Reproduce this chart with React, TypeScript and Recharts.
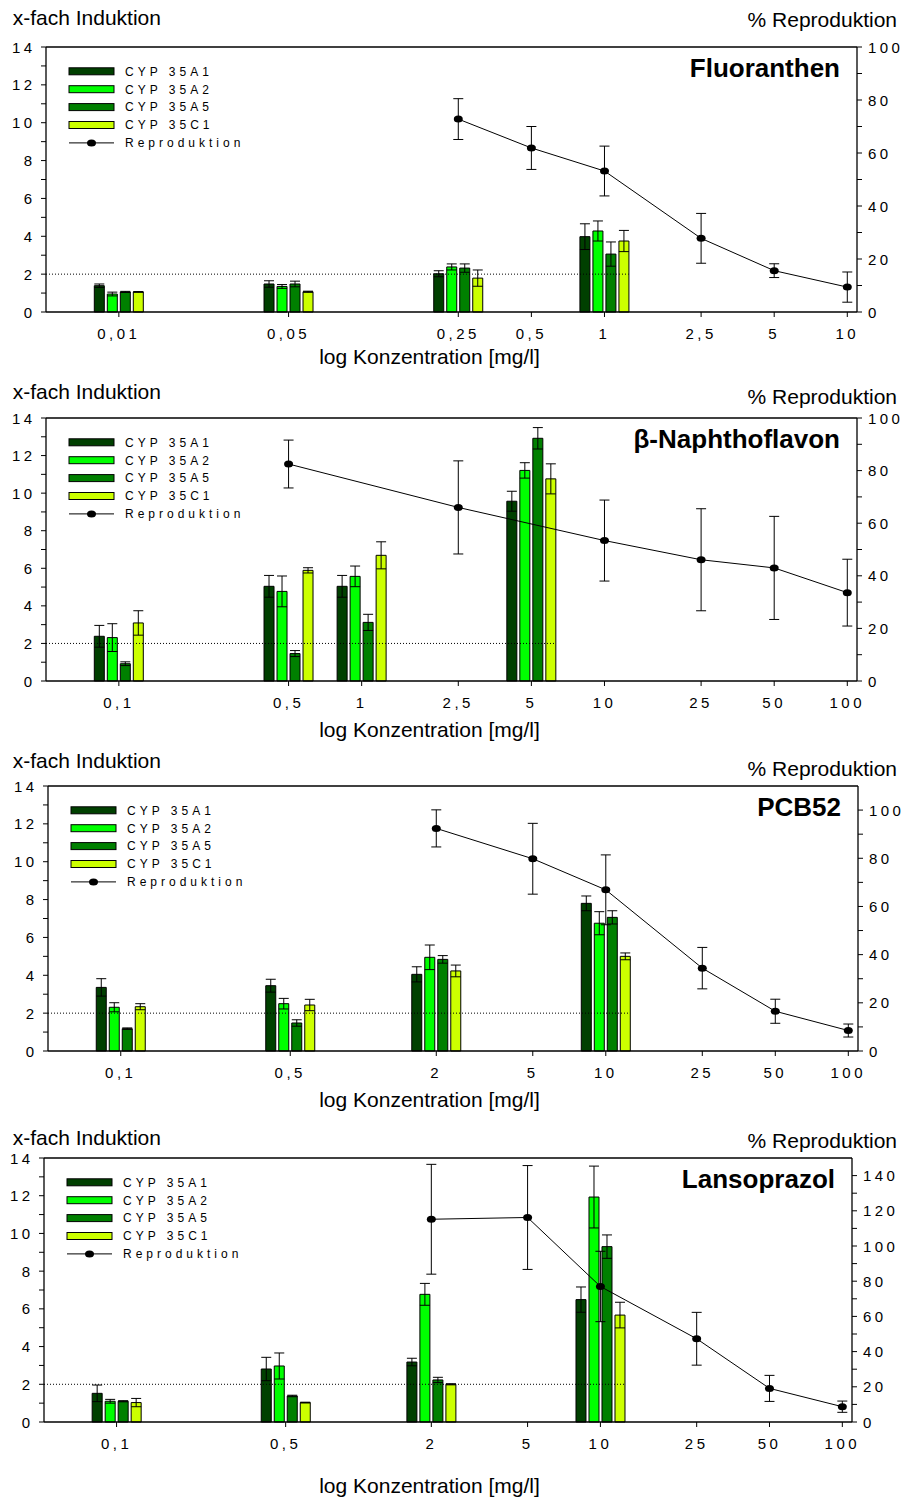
import React from "react";
import {
  ComposedChart,
  Bar,
  Line,
  XAxis,
  YAxis,
  ErrorBar,
  ReferenceLine,
} from "recharts";

const FONT = '"Liberation Sans", Arial, Helvetica, sans-serif';
const PAGE_W = 904;
const PAGE_H = 1499;

const CYP_NAMES = ["CYP 35A1", "CYP 35A2", "CYP 35A5", "CYP 35C1"];
const CYP_COLORS = ["#004000", "#00ff00", "#008000", "#ccff00"];
const INDUCTION_TICKS = [0, 1, 2, 3, 4, 5, 6, 7, 8, 9, 10, 11, 12, 13, 14];

// Fluoranthen
const fluoTicks = [0.01, 0.05, 0.25, 0.5, 1, 2.5, 5, 10];
const fluoConc = [0.01, 0.05, 0.25, 1];
const fluoA1 = [1.39, 1.48, 2.02, 3.98];
const fluoA1Err = [0.09, 0.17, 0.16, 0.68];
const fluoA2 = [0.95, 1.35, 2.38, 4.28];
const fluoA2Err = [0.1, 0.1, 0.16, 0.53];
const fluoA5 = [1.06, 1.48, 2.32, 3.06];
const fluoA5Err = [0.03, 0.15, 0.22, 0.64];
const fluoC1 = [1.06, 1.07, 1.79, 3.75];
const fluoC1Err = [0.02, 0.03, 0.43, 0.56];
const fluoRepConc = [0.25, 0.5, 1, 2.5, 5, 10];
const fluoRep = [72.8, 61.9, 53.2, 27.8, 15.6, 9.4];
const fluoRepErr = [7.7, 8.1, 9.4, 9.4, 2.6, 5.7];

// beta-Naphthoflavon
const bnfTicks = [0.1, 0.5, 1, 2.5, 5, 10, 25, 50, 100];
const bnfConc = [0.1, 0.5, 1, 5];
const bnfA1 = [2.38, 5.04, 5.04, 9.57];
const bnfA1Err = [0.58, 0.58, 0.58, 0.53];
const bnfA2 = [2.31, 4.77, 5.57, 11.21];
const bnfA2Err = [0.74, 0.82, 0.55, 0.41];
const bnfA5 = [0.92, 1.46, 3.12, 12.92];
const bnfA5Err = [0.1, 0.16, 0.43, 0.57];
const bnfC1 = [3.09, 5.89, 6.69, 10.76];
const bnfC1Err = [0.65, 0.14, 0.72, 0.8];
const bnfRepConc = [0.5, 2.5, 10, 25, 50, 100];
const bnfRep = [82.5, 66, 53.4, 46.1, 43.0, 33.6];
const bnfRepErr = [9.1, 17.7, 15.4, 19.4, 19.6, 12.7];

// PCB52
const pcbTicks = [0.1, 0.5, 2, 5, 10, 25, 50, 100];
const pcbConc = [0.1, 0.5, 2, 10];
const pcbA1 = [3.36, 3.45, 4.05, 7.8];
const pcbA1Err = [0.46, 0.34, 0.4, 0.39];
const pcbA2 = [2.31, 2.5, 4.95, 6.75];
const pcbA2Err = [0.24, 0.28, 0.65, 0.61];
const pcbA5 = [1.18, 1.48, 4.84, 7.06];
const pcbA5Err = [0.04, 0.17, 0.2, 0.35];
const pcbC1 = [2.34, 2.43, 4.23, 5.0];
const pcbC1Err = [0.16, 0.3, 0.31, 0.18];
const pcbRepConc = [2, 5, 10, 25, 50, 100];
const pcbRep = [92.4, 79.8, 66.9, 34.4, 16.5, 8.5];
const pcbRepErr = [7.7, 14.7, 14.5, 8.6, 5.0, 2.7];

// Lansoprazol
const lansoTicks = [0.1, 0.5, 2, 5, 10, 25, 50, 100];
const lansoConc = [0.1, 0.5, 2, 10];
const lansoA1 = [1.52, 2.81, 3.18, 6.49];
const lansoA1Err = [0.44, 0.62, 0.2, 0.67];
const lansoA2 = [1.1, 2.97, 6.77, 11.93];
const lansoA2Err = [0.1, 0.69, 0.58, 1.64];
const lansoA5 = [1.1, 1.38, 2.23, 9.3];
const lansoA5Err = [0.03, 0.04, 0.14, 0.62];
const lansoC1 = [1.03, 1.03, 2.0, 5.67];
const lansoC1Err = [0.22, 0.02, 0.03, 0.68];
const lansoRepConc = [2, 5, 10, 25, 50, 100];
const lansoRep = [115.2, 116.2, 77.0, 47.3, 19.1, 8.7];
const lansoRepErr = [31.2, 29.5, 20, 15, 7.4, 3.2];

const log = (c: number) => Math.log10(c);
const fmtConc = (v: number) =>
  String(Number(Math.pow(10, v).toPrecision(3))).replace(".", ",");
const steps = (max: number, step: number) => {
  const out: number[] = [];
  for (let v = 0; v <= max + 1e-9; v += step) out.push(v);
  return out;
};

type Panel = {
  name: string;
  ticks: number[];
  conc: number[];
  cyp: number[][];
  cypErr: number[][];
  repConc: number[];
  rep: number[];
  repErr: number[];
  repMax: number;
  repTickMax: number;
  // layout (page pixels)
  top: number;
  bottom: number;
  left: number;
  right: number;
  yTitle: number;
  repTitle: number;
  xTitle: number;
};

const PANELS: Panel[] = [
  {
    name: "Fluoranthen",
    ticks: fluoTicks,
    conc: fluoConc,
    cyp: [fluoA1, fluoA2, fluoA5, fluoC1],
    cypErr: [fluoA1Err, fluoA2Err, fluoA5Err, fluoC1Err],
    repConc: fluoRepConc,
    rep: fluoRep,
    repErr: fluoRepErr,
    repMax: 100,
    repTickMax: 100,
    top: 47,
    bottom: 312,
    left: 46,
    right: 857,
    yTitle: 25,
    repTitle: 27,
    xTitle: 364,
  },
  {
    name: "β-Naphthoflavon",
    ticks: bnfTicks,
    conc: bnfConc,
    cyp: [bnfA1, bnfA2, bnfA5, bnfC1],
    cypErr: [bnfA1Err, bnfA2Err, bnfA5Err, bnfC1Err],
    repConc: bnfRepConc,
    rep: bnfRep,
    repErr: bnfRepErr,
    repMax: 100,
    repTickMax: 100,
    top: 418,
    bottom: 681,
    left: 46,
    right: 857,
    yTitle: 399,
    repTitle: 404,
    xTitle: 737,
  },
  {
    name: "PCB52",
    ticks: pcbTicks,
    conc: pcbConc,
    cyp: [pcbA1, pcbA2, pcbA5, pcbC1],
    cypErr: [pcbA1Err, pcbA2Err, pcbA5Err, pcbC1Err],
    repConc: pcbRepConc,
    rep: pcbRep,
    repErr: pcbRepErr,
    repMax: 110,
    repTickMax: 100,
    top: 786,
    bottom: 1051,
    left: 48,
    right: 858,
    yTitle: 768,
    repTitle: 776,
    xTitle: 1107,
  },
  {
    name: "Lansoprazol",
    ticks: lansoTicks,
    conc: lansoConc,
    cyp: [lansoA1, lansoA2, lansoA5, lansoC1],
    cypErr: [lansoA1Err, lansoA2Err, lansoA5Err, lansoC1Err],
    repConc: lansoRepConc,
    rep: lansoRep,
    repErr: lansoRepErr,
    repMax: 150,
    repTickMax: 140,
    top: 1158,
    bottom: 1422,
    left: 44,
    right: 852,
    yTitle: 1145,
    repTitle: 1148,
    xTitle: 1493,
  },
];

const PAD_TOP = 20;
const XAXIS_H = 45;

const LeftTick = (props: any) => {
  const { x, y, payload } = props;
  if (payload.value % 2 !== 0) return <g />;
  return (
    <text x={x - 3.6} y={y} dy={5.5} textAnchor="end" fontSize={15}
      fontFamily={FONT} letterSpacing={3.4} fill="#000">
      {payload.value}
    </text>
  );
};

const RightTick = (props: any) => {
  const { x, y, payload } = props;
  if (payload.value % 20 !== 0) return <g />;
  return (
    <text x={x + 4} y={y} dy={5.5} textAnchor="start" fontSize={15}
      fontFamily={FONT} letterSpacing={3.4} fill="#000">
      {payload.value}
    </text>
  );
};

const ConcTick = (props: any) => {
  const { x, y, payload } = props;
  return (
    <text x={x} y={y} dy={20} textAnchor="middle" fontSize={15}
      fontFamily={FONT} letterSpacing={3.5} fill="#000">
      {fmtConc(payload.value)}
    </text>
  );
};

const RepDot = (props: any) => (
  <ellipse key={`dot-${props.index}`} cx={props.cx} cy={props.cy}
    rx={4.5} ry={3.5} fill="#000" />
);

function PanelChart({ p }: { p: Panel }) {
  const rows = p.conc.map((c, i) => {
    const row: Record<string, number> = { x: log(c) };
    p.cyp.forEach((series, k) => {
      row[`v${k}`] = series[i];
      row[`e${k}`] = p.cypErr[k][i];
    });
    return row;
  });
  const repRows = p.repConc.map((c, i) => ({
    x: log(c),
    r: p.rep[i],
    re: p.repErr[i],
  }));
  const xMin = log(p.ticks[0]) - 0.3;
  const xMax = log(p.ticks[p.ticks.length - 1]) + 0.04;
  const thresholdEnd = log(p.conc[p.conc.length - 1]) + 0.1;
  const height = p.bottom - p.top + PAD_TOP + XAXIS_H;

  return (
    <div style={{ position: "absolute", left: 0, top: p.top - PAD_TOP }}>
      <ComposedChart
        width={PAGE_W}
        height={height}
        data={rows}
        margin={{ top: PAD_TOP, right: 0, bottom: 0, left: 0 }}
        barGap={3}
      >
        <XAxis
          type="number"
          dataKey="x"
          domain={[xMin, xMax]}
          allowDataOverflow
          ticks={p.ticks.map(log)}
          interval={0}
          tickSize={5}
          height={XAXIS_H}
          axisLine={{ stroke: "#000", strokeWidth: 1.3 }}
          tickLine={{ stroke: "#000" }}
          tick={ConcTick}
        />
        <YAxis
          yAxisId="left"
          domain={[0, 14]}
          ticks={INDUCTION_TICKS}
          interval={0}
          tickSize={5}
          width={p.left}
          axisLine={{ stroke: "#000", strokeWidth: 1.3 }}
          tickLine={{ stroke: "#000" }}
          tick={LeftTick}
        />
        <YAxis
          yAxisId="right"
          orientation="right"
          domain={[0, p.repMax]}
          ticks={steps(p.repTickMax, 10)}
          interval={0}
          tickSize={5}
          width={PAGE_W - p.right}
          axisLine={{ stroke: "#000", strokeWidth: 1.3 }}
          tickLine={{ stroke: "#000" }}
          tick={RightTick}
        />
        <ReferenceLine yAxisId="left" y={14} stroke="#000" strokeWidth={1.3} />
        <ReferenceLine
          yAxisId="left"
          segment={[
            { x: xMin, y: 2 },
            { x: thresholdEnd, y: 2 },
          ]}
          stroke="#000"
          strokeWidth={1}
          strokeDasharray="1 2"
        />
        {CYP_NAMES.map((name, k) => (
          <Bar
            key={name}
            name={name}
            yAxisId="left"
            dataKey={`v${k}`}
            fill={CYP_COLORS[k]}
            stroke="#000"
            strokeWidth={1}
            barSize={10}
            isAnimationActive={false}
          >
            <ErrorBar dataKey={`e${k}`} width={5} stroke="#000" strokeWidth={1} direction="y" />
          </Bar>
        ))}
        <Line
          yAxisId="right"
          data={repRows}
          dataKey="r"
          name="Reproduktion"
          type="linear"
          stroke="#000"
          strokeWidth={1}
          dot={RepDot}
          activeDot={false}
          isAnimationActive={false}
        >
          <ErrorBar dataKey="re" width={5} stroke="#000" strokeWidth={1} direction="y" />
        </Line>
      </ComposedChart>
    </div>
  );
}

function PanelText({ p }: { p: Panel }) {
  const rowY = (i: number) => p.top + 24.3 + i * 17.9;
  const swX = p.left + 23;
  const txtX = p.left + 79;
  return (
    <g fontFamily={FONT} fill="#000">
      <text x={12.7} y={p.yTitle} fontSize={21}>x-fach Induktion</text>
      <text x={897} y={p.repTitle} fontSize={21} textAnchor="end">% Reproduktion</text>
      <text x={429.5} y={p.xTitle} fontSize={21} textAnchor="middle">
        log Konzentration [mg/l]
      </text>
      <text x={p.right - 17} y={p.top + 30} fontSize={26} fontWeight="bold" textAnchor="end">
        {p.name}
      </text>
      {CYP_NAMES.map((name, k) => (
        <g key={name}>
          <rect x={swX} y={rowY(k) - 3.5} width={45} height={7}
            fill={CYP_COLORS[k]} stroke="#000" strokeWidth={1} />
          <text x={txtX} y={rowY(k) + 4.3} fontSize={12} letterSpacing={4}>{name}</text>
        </g>
      ))}
      <line x1={swX} x2={swX + 45} y1={rowY(4)} y2={rowY(4)} stroke="#000" strokeWidth={1} />
      <ellipse cx={swX + 22.5} cy={rowY(4)} rx={4.5} ry={3.5} fill="#000" />
      <text x={txtX} y={rowY(4) + 4.3} fontSize={12} letterSpacing={4}>Reproduktion</text>
    </g>
  );
}

export default function App() {
  return (
    <div
      style={{
        position: "absolute",
        left: 0,
        top: 0,
        width: PAGE_W,
        height: PAGE_H,
        background: "#fff",
        overflow: "hidden",
      }}
    >
      {PANELS.map((p) => (
        <PanelChart key={p.name} p={p} />
      ))}
      <svg
        width={PAGE_W}
        height={PAGE_H}
        style={{ position: "absolute", left: 0, top: 0, pointerEvents: "none" }}
      >
        {PANELS.map((p) => (
          <PanelText key={p.name} p={p} />
        ))}
      </svg>
    </div>
  );
}
